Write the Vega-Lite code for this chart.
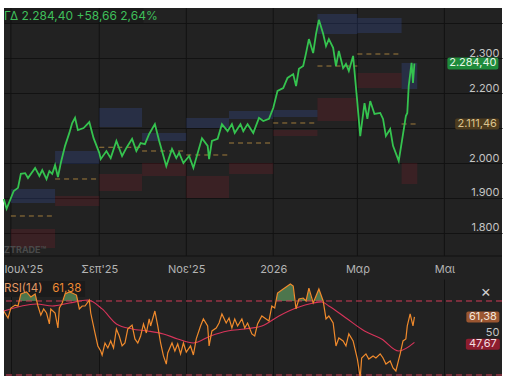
{
"$schema": "https://vega.github.io/schema/vega-lite/v6.json",
"background": "white",
"padding": {"top": 7, "left": 0, "right": 0, "bottom": 0},
"spacing": 0,
"config": {"view": {"stroke": null, "fill": "#222222"}, "font": "Inter", "concat": {"spacing": 0}},
"datasets": {
"price": [{"date":"2025-06-26","close":1897},{"date":"2025-06-28","close":1869},{"date":"2025-07-03","close":1920},{"date":"2025-07-06","close":1929},{"date":"2025-07-08","close":1969},{"date":"2025-07-11","close":1971},{"date":"2025-07-13","close":1957},{"date":"2025-07-18","close":1986},{"date":"2025-07-21","close":1963},{"date":"2025-07-23","close":1980},{"date":"2025-07-26","close":1954},{"date":"2025-07-28","close":1977},{"date":"2025-07-30","close":1969},{"date":"2025-08-01","close":1994},{"date":"2025-08-03","close":1960},{"date":"2025-08-05","close":2000},{"date":"2025-08-08","close":2049},{"date":"2025-08-11","close":2086},{"date":"2025-08-13","close":2114},{"date":"2025-08-15","close":2129},{"date":"2025-08-17","close":2094},{"date":"2025-08-21","close":2100},{"date":"2025-08-25","close":2117},{"date":"2025-08-28","close":2071},{"date":"2025-09-01","close":2029},{"date":"2025-09-02","close":2011},{"date":"2025-09-06","close":2034},{"date":"2025-09-09","close":2014},{"date":"2025-09-13","close":2063},{"date":"2025-09-17","close":2020},{"date":"2025-09-20","close":2043},{"date":"2025-09-24","close":2069},{"date":"2025-09-27","close":2034},{"date":"2025-09-30","close":2057},{"date":"2025-10-03","close":2054},{"date":"2025-10-06","close":2083},{"date":"2025-10-10","close":2111},{"date":"2025-10-13","close":2063},{"date":"2025-10-18","close":1991},{"date":"2025-10-22","close":2040},{"date":"2025-10-25","close":2014},{"date":"2025-10-27","close":2029},{"date":"2025-10-30","close":2000},{"date":"2025-11-03","close":2020},{"date":"2025-11-06","close":1986},{"date":"2025-11-12","close":2071},{"date":"2025-11-16","close":2049},{"date":"2025-11-17","close":2011},{"date":"2025-11-19","close":2063},{"date":"2025-11-23","close":2069},{"date":"2025-11-26","close":2111},{"date":"2025-11-30","close":2091},{"date":"2025-12-03","close":2111},{"date":"2025-12-05","close":2086},{"date":"2025-12-09","close":2111},{"date":"2025-12-11","close":2091},{"date":"2025-12-14","close":2111},{"date":"2025-12-18","close":2086},{"date":"2025-12-22","close":2129},{"date":"2025-12-25","close":2120},{"date":"2025-12-29","close":2126},{"date":"2026-01-01","close":2157},{"date":"2026-01-04","close":2206},{"date":"2026-01-08","close":2214},{"date":"2026-01-11","close":2243},{"date":"2026-01-15","close":2254},{"date":"2026-01-17","close":2220},{"date":"2026-01-19","close":2269},{"date":"2026-01-22","close":2277},{"date":"2026-01-24","close":2314},{"date":"2026-01-26","close":2354},{"date":"2026-01-29","close":2314},{"date":"2026-01-31","close":2369},{"date":"2026-02-02","close":2409},{"date":"2026-02-05","close":2369},{"date":"2026-02-07","close":2334},{"date":"2026-02-09","close":2354},{"date":"2026-02-12","close":2329},{"date":"2026-02-14","close":2277},{"date":"2026-02-16","close":2320},{"date":"2026-02-19","close":2271},{"date":"2026-02-21","close":2283},{"date":"2026-02-23","close":2263},{"date":"2026-02-26","close":2306},{"date":"2026-03-01","close":2171},{"date":"2026-03-03","close":2077},{"date":"2026-03-06","close":2171},{"date":"2026-03-08","close":2126},{"date":"2026-03-10","close":2177},{"date":"2026-03-13","close":2140},{"date":"2026-03-17","close":2143},{"date":"2026-03-19","close":2126},{"date":"2026-03-21","close":2077},{"date":"2026-03-24","close":2097},{"date":"2026-03-26","close":2049},{"date":"2026-03-30","close":2006},{"date":"2026-04-01","close":2057},{"date":"2026-04-04","close":2134},{"date":"2026-04-05","close":2143},{"date":"2026-04-06","close":2220},{"date":"2026-04-08","close":2286},{"date":"2026-04-09","close":2229},{"date":"2026-04-10","close":2284.4}],
"boxes": [
{"date":"2025-07-01","end":"2025-08-01","bhi":1925.7,"blo":1885.7,"mid":1848.6,"rhi":1811.4,"rlo":1757},
{"date":"2025-08-01","end":"2025-09-01","bhi":2034.3,"blo":1997.1,"mid":1954.3,"rhi":1905.7,"rlo":1877.1},
{"date":"2025-09-01","end":"2025-10-01","bhi":2157.1,"blo":2102.9,"mid":2045,"rhi":1968.6,"rlo":1920},
{"date":"2025-10-01","end":"2025-11-01","bhi":2085.7,"blo":2062.9,"mid":2034.3,"rhi":2000,"rlo":1962.9},
{"date":"2025-11-01","end":"2025-12-01","bhi":2128.6,"blo":2100,"mid":2022.9,"rhi":1962.9,"rlo":1900},
{"date":"2025-12-01","end":"2026-01-01","bhi":2148.6,"blo":2125.7,"mid":2057.1,"rhi":2000,"rlo":1968.6},
{"date":"2026-01-01","end":"2026-02-01","bhi":2151.4,"blo":2131.4,"mid":2114.3,"rhi":2094.3,"rlo":2077.1},
{"date":"2026-02-01","end":"2026-03-01","bhi":2425.7,"blo":2368.6,"mid":2277.1,"rhi":2185.7,"rlo":2120},
{"date":"2026-03-01","end":"2026-04-01","bhi":2414.3,"blo":2371.4,"mid":2311.4,"rhi":2257.1,"rlo":2214.3},
{"date":"2026-04-01","end":"2026-04-12","bhi":2285.7,"blo":2211.4,"mid":2111.46,"rhi":2000,"rlo":1940}
],
"months": [{"date":"2025-07-01"},{"date":"2025-09-01"},{"date":"2025-11-01"},{"date":"2026-01-01"},{"date":"2026-03-01"},{"date":"2026-05-01"}],
"rsi": [{"date":"2025-06-26","v":64.6},{"date":"2025-06-29","v":60.8},{"date":"2025-07-01","v":66.2},{"date":"2025-07-04","v":67.8},{"date":"2025-07-06","v":67.3},{"date":"2025-07-08","v":73.8},{"date":"2025-07-12","v":74.9},{"date":"2025-07-15","v":72.2},{"date":"2025-07-18","v":73.8},{"date":"2025-07-20","v":67.3},{"date":"2025-07-22","v":62.4},{"date":"2025-07-24","v":65.7},{"date":"2025-07-26","v":63.5},{"date":"2025-07-28","v":57.6},{"date":"2025-07-29","v":65.7},{"date":"2025-08-01","v":63.5},{"date":"2025-08-03","v":55.4},{"date":"2025-08-04","v":66.2},{"date":"2025-08-06","v":68.9},{"date":"2025-08-08","v":73.8},{"date":"2025-08-11","v":74.9},{"date":"2025-08-13","v":74.3},{"date":"2025-08-16","v":73.2},{"date":"2025-08-18","v":65.7},{"date":"2025-08-20","v":67.3},{"date":"2025-08-22","v":67.3},{"date":"2025-08-25","v":70.5},{"date":"2025-08-26","v":63.5},{"date":"2025-08-29","v":52.7},{"date":"2025-08-31","v":45.7},{"date":"2025-09-02","v":43.0},{"date":"2025-09-03","v":40.8},{"date":"2025-09-05","v":47.3},{"date":"2025-09-07","v":44.6},{"date":"2025-09-09","v":48.4},{"date":"2025-09-11","v":44.6},{"date":"2025-09-13","v":54.9},{"date":"2025-09-15","v":51.1},{"date":"2025-09-17","v":45.7},{"date":"2025-09-19","v":47.3},{"date":"2025-09-21","v":54.9},{"date":"2025-09-24","v":57.0},{"date":"2025-09-26","v":49.5},{"date":"2025-09-28","v":47.3},{"date":"2025-09-30","v":51.1},{"date":"2025-10-02","v":57.6},{"date":"2025-10-04","v":52.7},{"date":"2025-10-06","v":60.3},{"date":"2025-10-07","v":56.5},{"date":"2025-10-10","v":64.6},{"date":"2025-10-12","v":56.5},{"date":"2025-10-14","v":47.3},{"date":"2025-10-16","v":40.3},{"date":"2025-10-18","v":35.9},{"date":"2025-10-19","v":41.9},{"date":"2025-10-22","v":47.3},{"date":"2025-10-24","v":43.0},{"date":"2025-10-26","v":46.8},{"date":"2025-10-28","v":41.4},{"date":"2025-10-30","v":47.3},{"date":"2025-11-01","v":42.4},{"date":"2025-11-04","v":45.7},{"date":"2025-11-06","v":40.8},{"date":"2025-11-08","v":49.5},{"date":"2025-11-11","v":56.5},{"date":"2025-11-13","v":60.3},{"date":"2025-11-16","v":56.5},{"date":"2025-11-17","v":45.7},{"date":"2025-11-19","v":53.8},{"date":"2025-11-22","v":55.4},{"date":"2025-11-24","v":58.1},{"date":"2025-11-26","v":63.0},{"date":"2025-11-29","v":58.1},{"date":"2025-12-01","v":60.8},{"date":"2025-12-03","v":55.4},{"date":"2025-12-05","v":60.3},{"date":"2025-12-07","v":56.5},{"date":"2025-12-10","v":60.3},{"date":"2025-12-12","v":55.4},{"date":"2025-12-14","v":58.1},{"date":"2025-12-17","v":52.2},{"date":"2025-12-19","v":51.1},{"date":"2025-12-21","v":57.6},{"date":"2025-12-24","v":61.9},{"date":"2025-12-26","v":60.8},{"date":"2025-12-29","v":59.2},{"date":"2025-12-31","v":67.3},{"date":"2026-01-02","v":66.2},{"date":"2026-01-04","v":74.3},{"date":"2026-01-08","v":76.5},{"date":"2026-01-11","v":78.1},{"date":"2026-01-13","v":79.2},{"date":"2026-01-15","v":78.1},{"date":"2026-01-17","v":65.7},{"date":"2026-01-19","v":71.1},{"date":"2026-01-22","v":71.6},{"date":"2026-01-24","v":70.0},{"date":"2026-01-26","v":77.0},{"date":"2026-01-29","v":68.9},{"date":"2026-01-31","v":72.7},{"date":"2026-02-02","v":76.5},{"date":"2026-02-05","v":70.0},{"date":"2026-02-07","v":60.3},{"date":"2026-02-09","v":61.9},{"date":"2026-02-12","v":58.1},{"date":"2026-02-14","v":45.7},{"date":"2026-02-16","v":50.0},{"date":"2026-02-19","v":48.4},{"date":"2026-02-21","v":45.7},{"date":"2026-02-23","v":52.2},{"date":"2026-02-26","v":48.4},{"date":"2026-03-01","v":38.6},{"date":"2026-03-03","v":28.5},{"date":"2026-03-04","v":39.2},{"date":"2026-03-07","v":41.4},{"date":"2026-03-09","v":38.6},{"date":"2026-03-12","v":40.3},{"date":"2026-03-14","v":39.2},{"date":"2026-03-17","v":41.4},{"date":"2026-03-19","v":39.2},{"date":"2026-03-21","v":35.9},{"date":"2026-03-24","v":37.6},{"date":"2026-03-26","v":33.8},{"date":"2026-03-28","v":32.2},{"date":"2026-03-31","v":41.4},{"date":"2026-04-02","v":48.4},{"date":"2026-04-04","v":49.5},{"date":"2026-04-05","v":56.5},{"date":"2026-04-07","v":63.0},{"date":"2026-04-09","v":56.5},{"date":"2026-04-10","v":61.38}],
"rsima": [{"date":"2025-06-26","v":64.6},{"date":"2025-07-19","v":68.4},{"date":"2025-07-30","v":67.3},{"date":"2025-08-11","v":68.9},{"date":"2025-08-24","v":70.5},{"date":"2025-09-03","v":65.7},{"date":"2025-09-13","v":57.6},{"date":"2025-09-24","v":54.9},{"date":"2025-10-05","v":53.8},{"date":"2025-10-16","v":52.2},{"date":"2025-10-26","v":49.5},{"date":"2025-11-06","v":47.3},{"date":"2025-11-18","v":51.1},{"date":"2025-11-30","v":53.8},{"date":"2025-12-12","v":54.9},{"date":"2025-12-24","v":56.5},{"date":"2026-01-05","v":61.9},{"date":"2026-01-17","v":66.2},{"date":"2026-01-29","v":68.9},{"date":"2026-02-04","v":69.5},{"date":"2026-02-09","v":67.3},{"date":"2026-02-21","v":60.8},{"date":"2026-03-06","v":53.8},{"date":"2026-03-18","v":49.5},{"date":"2026-03-30","v":43.0},{"date":"2026-04-10","v":47.67}],
"ob": [{"date":"2025-07-07","v":70,"g":1},{"date":"2025-07-08","v":73.8,"g":1},{"date":"2025-07-12","v":74.9,"g":1},{"date":"2025-07-15","v":72.2,"g":1},{"date":"2025-07-18","v":73.8,"g":1},{"date":"2025-07-19","v":70,"g":1},
{"date":"2025-08-07","v":70,"g":2},{"date":"2025-08-08","v":73.8,"g":2},{"date":"2025-08-11","v":74.9,"g":2},{"date":"2025-08-13","v":74.3,"g":2},{"date":"2025-08-16","v":73.2,"g":2},{"date":"2025-08-17","v":70,"g":2},
{"date":"2026-01-03","v":70,"g":3},{"date":"2026-01-04","v":74.3,"g":3},{"date":"2026-01-08","v":76.5,"g":3},{"date":"2026-01-11","v":78.1,"g":3},{"date":"2026-01-13","v":79.2,"g":3},{"date":"2026-01-15","v":78.1,"g":3},{"date":"2026-01-16","v":70,"g":3},
{"date":"2026-01-18","v":70,"g":4},{"date":"2026-01-19","v":71.1,"g":4},{"date":"2026-01-22","v":71.6,"g":4},{"date":"2026-01-24","v":70,"g":4},{"date":"2026-01-26","v":77,"g":4},{"date":"2026-01-28","v":70,"g":4},
{"date":"2026-01-30","v":70,"g":5},{"date":"2026-01-31","v":72.7,"g":5},{"date":"2026-02-02","v":76.5,"g":5},{"date":"2026-02-05","v":70,"g":5}]
},
"vconcat": [
{
"width": 498, "height": 271,
"layer": [
{"data": {"values": [{"box": "legend"}]}, "mark": {"type": "rect", "color": "#1b1b1b"},
 "encoding": {"x": {"datum": 1750911361920, "type": "temporal", "scale": {"domain": [1750911361920,1755145756800,1759197225600,1763283859200,1767690604800,1772059939200,1776568550400,1781085888000], "nice": false}},
  "x2": {"datum": 1759363200000},
  "y": {"datum": 2442.86, "type": "quantitative", "scale": {"domain": [1668.57, 2442.86], "nice": false, "zero": false}},
  "y2": {"datum": 2400}}},
{"data": {"name": "months"}, "mark": {"type": "rule", "color": "#121212", "strokeWidth": 1},
 "encoding": {"x": {"field": "date", "type": "temporal", "scale": {"domain": [1750911361920,1755145756800,1759197225600,1763283859200,1767690604800,1772059939200,1776568550400,1781085888000], "nice": false}},
  "y": {"datum": 1734.3, "type": "quantitative", "scale": {"domain": [1668.57, 2442.86], "nice": false, "zero": false}},
  "y2": {"datum": 2442.86}}},
{"data": {"values": [{"sep": 1}]}, "mark": {"type": "rule", "color": "#121212"},
 "encoding": {"y": {"datum": 1734.3, "type": "quantitative", "scale": {"domain": [1668.57, 2442.86], "nice": false, "zero": false}}}},
{"data": {"name": "boxes"}, "mark": {"type": "rect", "color": "#3d5cb8", "opacity": 0.24},
 "encoding": {"x": {"field": "date", "type": "temporal", "scale": {"domain": [1750911361920,1755145756800,1759197225600,1763283859200,1767690604800,1772059939200,1776568550400,1781085888000], "nice": false}},
  "x2": {"field": "end"},
  "y": {"field": "bhi", "type": "quantitative", "scale": {"domain": [1668.57, 2442.86], "nice": false, "zero": false}},
  "y2": {"field": "blo"}}},
{"data": {"name": "boxes"}, "mark": {"type": "rect", "color": "#b0202f", "opacity": 0.17},
 "encoding": {"x": {"field": "date", "type": "temporal", "scale": {"domain": [1750911361920,1755145756800,1759197225600,1763283859200,1767690604800,1772059939200,1776568550400,1781085888000], "nice": false}},
  "x2": {"field": "end"},
  "y": {"field": "rhi", "type": "quantitative", "scale": {"domain": [1668.57, 2442.86], "nice": false, "zero": false}},
  "y2": {"field": "rlo"}}},
{"data": {"name": "boxes"}, "mark": {"type": "rule", "color": "#a07c3c", "strokeDash": [5, 4], "strokeWidth": 1},
 "encoding": {"x": {"field": "date", "type": "temporal", "scale": {"domain": [1750911361920,1755145756800,1759197225600,1763283859200,1767690604800,1772059939200,1776568550400,1781085888000], "nice": false}},
  "x2": {"field": "end"},
  "y": {"field": "mid", "type": "quantitative", "scale": {"domain": [1668.57, 2442.86], "nice": false, "zero": false}}}},
{"data": {"name": "price"}, "mark": {"type": "line", "color": "#35c34f", "strokeWidth": 1.8},
 "encoding": {"x": {"field": "date", "type": "temporal", "scale": {"domain": [1750911361920,1755145756800,1759197225600,1763283859200,1767690604800,1772059939200,1776568550400,1781085888000], "nice": false},
   "axis": {"values": [1751328000000,1756684800000,1761955200000,1767225600000,1772323200000,1777593600000],
     "labelExpr": "utcmonth(datum.value)==6 ? \"Ιουλ'25\" : utcmonth(datum.value)==8 ? \"Σεπ'25\" : utcmonth(datum.value)==10 ? \"Νοε'25\" : utcmonth(datum.value)==0 ? \"2026\" : utcmonth(datum.value)==2 ? \"Μαρ\" : \"Μαι\"",
     "orient": "bottom", "offset": -23, "grid": false, "ticks": false, "domain": false, "labelPadding": 7, "labelColor": "#b4b4b4", "labelFontSize": 11, "labelFont": "Inter", "title": null,
     "labelAlign": {"condition": {"test": "utcmonth(datum.value)==6", "value": "left"}, "value": "center"},
     "labelOffset": {"condition": {"test": "utcmonth(datum.value)==6", "value": -7}, "value": 0}}},
  "y": {"field": "close", "type": "quantitative", "scale": {"domain": [1668.57, 2442.86], "nice": false, "zero": false},
   "axis": {"orient": "right", "values": [1800, 1900, 2000, 2100, 2200, 2300, 2400], "labelExpr": "datum.value >= 2400 ? '' : replace(format(datum.value, ','), ',', '.')", "grid": true, "gridColor": "#121212", "ticks": false, "domain": false, "labelAlign": "right", "labelBaseline": "bottom", "labelPadding": -3, "labelColor": "#c4c4c4", "labelFontSize": 11, "labelFont": "Inter", "title": null}}}},
{"data": {"values": [{"label": "ΓΔ 2.284,40 +58,66 2,64%", "price": 2421.4}]}, "mark": {"type": "text", "color": "#3fbf5a", "fontSize": 12, "font": "Inter", "align": "left", "baseline": "middle"},
 "encoding": {"x": {"datum": 1750911361920, "type": "temporal", "scale": {"domain": [1750911361920,1755145756800,1759197225600,1763283859200,1767690604800,1772059939200,1776568550400,1781085888000], "nice": false}},
  "y": {"field": "price", "type": "quantitative", "scale": {"domain": [1668.57, 2442.86], "nice": false, "zero": false}},
  "text": {"field": "label"}}},
{"data": {"values": [{"label": "2.284,40", "price": 2284.4}]}, "mark": {"type": "rect", "color": "#1f8b3b", "width": 51, "height": 12, "cornerRadius": 2},
 "encoding": {"x": {"datum": 1779321600000, "type": "temporal", "scale": {"domain": [1750911361920,1755145756800,1759197225600,1763283859200,1767690604800,1772059939200,1776568550400,1781085888000], "nice": false}},
  "y": {"field": "price", "type": "quantitative", "scale": {"domain": [1668.57, 2442.86], "nice": false, "zero": false}}}},
{"data": {"values": [{"label": "2.284,40", "price": 2284.4}]}, "mark": {"type": "text", "color": "#e8f6e8", "fontSize": 11, "font": "Inter", "align": "center", "baseline": "middle"},
 "encoding": {"x": {"datum": 1779321600000, "type": "temporal", "scale": {"domain": [1750911361920,1755145756800,1759197225600,1763283859200,1767690604800,1772059939200,1776568550400,1781085888000], "nice": false}},
  "y": {"field": "price", "type": "quantitative", "scale": {"domain": [1668.57, 2442.86], "nice": false, "zero": false}},
  "text": {"field": "label"}}},
{"data": {"values": [{"label": "2.111,46", "price": 2111.46}]}, "mark": {"type": "rect", "color": "#4e3c1e", "width": 44, "height": 11, "cornerRadius": 2},
 "encoding": {"x": {"datum": 1779580800000, "type": "temporal", "scale": {"domain": [1750911361920,1755145756800,1759197225600,1763283859200,1767690604800,1772059939200,1776568550400,1781085888000], "nice": false}},
  "y": {"field": "price", "type": "quantitative", "scale": {"domain": [1668.57, 2442.86], "nice": false, "zero": false}}}},
{"data": {"values": [{"label": "2.111,46", "price": 2111.46}]}, "mark": {"type": "text", "color": "#dcc48e", "fontSize": 11, "font": "Inter", "align": "center", "baseline": "middle"},
 "encoding": {"x": {"datum": 1779580800000, "type": "temporal", "scale": {"domain": [1750911361920,1755145756800,1759197225600,1763283859200,1767690604800,1772059939200,1776568550400,1781085888000], "nice": false}},
  "y": {"field": "price", "type": "quantitative", "scale": {"domain": [1668.57, 2442.86], "nice": false, "zero": false}},
  "text": {"field": "label"}}},
{"data": {"values": [{"label": "ZTRADE™"}]}, "mark": {"type": "text", "color": "#4a4a4a", "fontSize": 9, "fontWeight": "bold", "font": "Inter", "align": "left", "baseline": "middle"},
 "encoding": {"x": {"datum": 1750911361920, "type": "temporal", "scale": {"domain": [1750911361920,1755145756800,1759197225600,1763283859200,1767690604800,1772059939200,1776568550400,1781085888000], "nice": false}},
  "y": {"datum": 1750, "type": "quantitative", "scale": {"domain": [1668.57, 2442.86], "nice": false, "zero": false}},
  "text": {"field": "label"}}}
]
},
{
"width": 498, "height": 97,
"layer": [
{"data": {"values": [{"box": "legend"}]}, "mark": {"type": "rect", "color": "#1b1b1b"},
 "encoding": {"x": {"datum": 1750911361920, "type": "temporal", "scale": {"domain": [1750911361920,1755145756800,1759197225600,1763283859200,1767690604800,1772059939200,1776568550400,1781085888000], "nice": false}},
  "x2": {"datum": 1755820800000},
  "y": {"datum": 80.8, "type": "quantitative", "scale": {"domain": [29.46, 81.89], "nice": false, "zero": false}},
  "y2": {"datum": 72.2}}},
{"data": {"name": "ob"}, "mark": {"type": "area", "color": "#5f9a5f", "opacity": 0.7},
 "encoding": {"x": {"field": "date", "type": "temporal", "scale": {"domain": [1750911361920,1755145756800,1759197225600,1763283859200,1767690604800,1772059939200,1776568550400,1781085888000], "nice": false}},
  "y": {"field": "v", "type": "quantitative", "scale": {"domain": [29.46, 81.89], "nice": false, "zero": false}},
  "y2": {"datum": 70},
  "detail": {"field": "g"}}},
{"data": {"values": [{"level": 70}, {"level": 30}]}, "mark": {"type": "rule", "color": "#d23a57", "strokeDash": [6, 4], "strokeWidth": 1},
 "encoding": {"y": {"field": "level", "type": "quantitative", "scale": {"domain": [29.46, 81.89], "nice": false, "zero": false}}}},
{"data": {"name": "rsima"}, "mark": {"type": "line", "color": "#d8345a", "strokeWidth": 1.1, "interpolate": "monotone"},
 "encoding": {"x": {"field": "date", "type": "temporal", "scale": {"domain": [1750911361920,1755145756800,1759197225600,1763283859200,1767690604800,1772059939200,1776568550400,1781085888000], "nice": false}},
  "y": {"field": "v", "type": "quantitative", "scale": {"domain": [29.46, 81.89], "nice": false, "zero": false}}}},
{"data": {"name": "rsi"}, "mark": {"type": "line", "color": "#f08a2c", "strokeWidth": 1.2, "clip": true},
 "encoding": {"x": {"field": "date", "type": "temporal", "scale": {"domain": [1750911361920,1755145756800,1759197225600,1763283859200,1767690604800,1772059939200,1776568550400,1781085888000], "nice": false},
   "axis": {"values": [1751328000000,1756684800000,1761955200000,1767225600000,1772323200000,1777593600000], "grid": true, "gridColor": "#121212", "labels": false, "ticks": false, "domain": false, "title": null}},
  "y": {"field": "v", "type": "quantitative", "scale": {"domain": [29.46, 81.89], "nice": false, "zero": false},
   "axis": {"orient": "right", "values": [50], "grid": false, "ticks": false, "domain": false, "labelAlign": "right", "labelBaseline": "bottom", "labelPadding": -3, "labelColor": "#c4c4c4", "labelFontSize": 11, "labelFont": "Inter", "title": null}}}},
{"data": {"values": [{"label": "RSI(14)", "v": 76.5}]}, "mark": {"type": "text", "color": "#e39a64", "fontSize": 11.5, "font": "Inter", "align": "left", "baseline": "middle"},
 "encoding": {"x": {"datum": 1750911361920, "type": "temporal", "scale": {"domain": [1750911361920,1755145756800,1759197225600,1763283859200,1767690604800,1772059939200,1776568550400,1781085888000], "nice": false}},
  "y": {"field": "v", "type": "quantitative", "scale": {"domain": [29.46, 81.89], "nice": false, "zero": false}},
  "text": {"field": "label"}}},
{"data": {"values": [{"label": "61,38", "v": 76.5}]}, "mark": {"type": "text", "color": "#ee8a33", "fontSize": 11.5, "font": "Inter", "align": "left", "baseline": "middle"},
 "encoding": {"x": {"datum": 1753833600000, "type": "temporal", "scale": {"domain": [1750911361920,1755145756800,1759197225600,1763283859200,1767690604800,1772059939200,1776568550400,1781085888000], "nice": false}},
  "y": {"field": "v", "type": "quantitative", "scale": {"domain": [29.46, 81.89], "nice": false, "zero": false}},
  "text": {"field": "label"}}},
{"data": {"values": [{"label": "61,38", "v": 61.38}]}, "mark": {"type": "rect", "color": "#9b5631", "width": 33, "height": 11, "cornerRadius": 2},
 "encoding": {"x": {"datum": 1779926400000, "type": "temporal", "scale": {"domain": [1750911361920,1755145756800,1759197225600,1763283859200,1767690604800,1772059939200,1776568550400,1781085888000], "nice": false}},
  "y": {"field": "v", "type": "quantitative", "scale": {"domain": [29.46, 81.89], "nice": false, "zero": false}}}},
{"data": {"values": [{"label": "61,38", "v": 61.38}]}, "mark": {"type": "text", "color": "#f3e6da", "fontSize": 11, "font": "Inter", "align": "center", "baseline": "middle"},
 "encoding": {"x": {"datum": 1779926400000, "type": "temporal", "scale": {"domain": [1750911361920,1755145756800,1759197225600,1763283859200,1767690604800,1772059939200,1776568550400,1781085888000], "nice": false}},
  "y": {"field": "v", "type": "quantitative", "scale": {"domain": [29.46, 81.89], "nice": false, "zero": false}},
  "text": {"field": "label"}}},
{"data": {"values": [{"label": "47,67", "v": 47.67}]}, "mark": {"type": "rect", "color": "#8e1d2f", "width": 34, "height": 11, "cornerRadius": 2, "yOffset": 2},
 "encoding": {"x": {"datum": 1779926400000, "type": "temporal", "scale": {"domain": [1750911361920,1755145756800,1759197225600,1763283859200,1767690604800,1772059939200,1776568550400,1781085888000], "nice": false}},
  "y": {"field": "v", "type": "quantitative", "scale": {"domain": [29.46, 81.89], "nice": false, "zero": false}}}},
{"data": {"values": [{"label": "47,67", "v": 47.67}]}, "mark": {"type": "text", "color": "#f5dfe2", "fontSize": 11, "font": "Inter", "align": "center", "baseline": "middle", "dy": 2},
 "encoding": {"x": {"datum": 1779926400000, "type": "temporal", "scale": {"domain": [1750911361920,1755145756800,1759197225600,1763283859200,1767690604800,1772059939200,1776568550400,1781085888000], "nice": false}},
  "y": {"field": "v", "type": "quantitative", "scale": {"domain": [29.46, 81.89], "nice": false, "zero": false}},
  "text": {"field": "label"}}},
{"data": {"values": [{"label": "×"}]}, "mark": {"type": "text", "color": "#d0d0d0", "fontSize": 16, "font": "Inter", "align": "center", "baseline": "middle"},
 "encoding": {"x": {"datum": 1780099200000, "type": "temporal", "scale": {"domain": [1750911361920,1755145756800,1759197225600,1763283859200,1767690604800,1772059939200,1776568550400,1781085888000], "nice": false}},
  "y": {"datum": 74.86, "type": "quantitative", "scale": {"domain": [29.46, 81.89], "nice": false, "zero": false}},
  "text": {"field": "label"}}}
]
}
]
}
